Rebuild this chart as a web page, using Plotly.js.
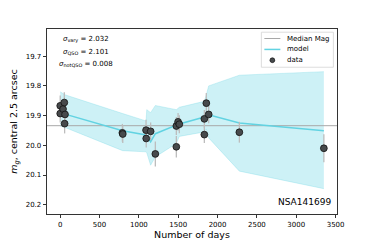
<!DOCTYPE html>
<html>
<head>
<meta charset="utf-8">
<script src="https://cdn.plot.ly/plotly-3.0.1.min.js"></script>
<style>html,body{margin:0;padding:0;background:#fff;}#chart{width:374px;height:240px;}</style>
</head>
<body>
<div id="chart"></div>
<script>
// Observations
var obsDays = [0, 0, 36, 52, 56, 61, 790, 795, 1091, 1093, 1149, 1209, 1476, 1476, 1498, 1514, 1832, 1832, 1857, 1887, 2277, 3351];
var obsMag  = [19.867, 19.893, 19.878, 19.856, 19.927, 19.896, 19.958, 19.962, 19.949, 19.977, 19.953, 20.029, 19.935, 20.005, 19.921, 19.929, 19.911, 19.964, 19.858, 19.896, 19.956, 20.010];
var obsErr  = [0.035, 0.03, 0.03, 0.035, 0.033, 0.03, 0.03, 0.03, 0.035, 0.03, 0.03, 0.042, 0.03, 0.036, 0.03, 0.03, 0.03, 0.028, 0.034, 0.03, 0.035, 0.047];

// Model and its band
var modelDays  = [0, 61, 793, 1091, 1100, 1149, 1209, 1476, 1514, 1832, 1857, 1887, 2277, 3351];
var modelMag   = [19.889, 19.895, 19.951, 19.965, 19.968, 19.988, 19.961, 19.933, 19.928, 19.905, 19.900, 19.897, 19.925, 19.951];
var modelUpper = [19.820, 19.830, 19.893, 19.918, 19.880, 19.890, 19.866, 19.880, 19.872, 19.852, 19.830, 19.800, 19.764, 19.752];
var modelLower = [19.935, 19.940, 20.018, 20.022, 20.025, 20.067, 20.039, 19.994, 19.970, 19.955, 19.945, 19.975, 20.087, 20.146];

var medianMag = 19.934;
var xRange = [-168, 3518];
var xTicks = [0, 500, 1000, 1500, 2000, 2500, 3000, 3500];
var yTicks = [19.7, 19.8, 19.9, 20.0, 20.1, 20.2];
var sigmaLabels = ["vary", "QSO", "notQSO"];
var sigmaValues = ["2.032", "2.101", "0.008"];
var legendNames = ["Median Mag", "model", "data"];
var objectName = "NSA141699";

var cyan = "#62d3e2";
var medianColor = "#a8a8a8";
var dotColor = "#474a4c";
var traces = [
  {x: modelDays, y: modelUpper, mode: "lines", line: {color: "rgba(98,211,226,0.45)", width: 0.6}, hoverinfo: "skip"},
  {x: modelDays, y: modelLower, mode: "lines", line: {color: "rgba(98,211,226,0.45)", width: 0.6}, fill: "tonexty", fillcolor: "rgba(98,211,226,0.32)", hoverinfo: "skip"},
  {x: xRange, y: [medianMag, medianMag], mode: "lines", name: legendNames[0], line: {color: medianColor, width: 1}},
  {x: modelDays, y: modelMag, mode: "lines", name: legendNames[1], line: {color: cyan, width: 1.5}},
  {x: obsDays, y: obsMag, mode: "markers", name: legendNames[2],
   error_y: {type: "data", array: obsErr, visible: true, color: "#bdbdbd", thickness: 1.3, width: 0},
   marker: {color: dotColor, size: 6.8, line: {color: "#111", width: 0.8}}}
];

var fontFam = "DejaVu Sans, sans-serif";

// paper-coordinate helpers for the decorations (pixel -> paper)
var L = 46.75, R = 336.6, T = 28.8, B = 213.6;
function px(x){ return (x - L) / (R - L); }
function py(y){ return (B - y) / (B - T); }

var annotations = [];
var sigmaX = [61, 61, 57];
var sigmaY = [39.3, 51.5, 63.3];
sigmaLabels.forEach(function(l, i){
  annotations.push({xref: "paper", yref: "paper", x: px(sigmaX[i]), y: py(sigmaY[i]), xanchor: "left", yanchor: "middle",
    showarrow: false, text: "<i>σ</i><sub>" + l + "</sub> = " + sigmaValues[i], font: {size: 7, family: fontFam}});
});
annotations.push({xref: "paper", yref: "paper", x: px(333), y: py(202), xanchor: "right", yanchor: "middle", showarrow: false,
  text: objectName, font: {size: 9, family: fontFam}});

// custom legend (box, sample glyphs, labels)
var rowY = [38.3, 49.2, 60.0];
var shapes = [
  {type: "rect", xref: "paper", yref: "paper", x0: px(261), x1: px(333), y0: py(67), y1: py(32),
   line: {color: "#d4d4d4", width: 0.8}, fillcolor: "rgba(255,255,255,0.85)", layer: "above"},
  {type: "line", xref: "paper", yref: "paper", x0: px(264), x1: px(280), y0: py(rowY[0]), y1: py(rowY[0]),
   line: {color: medianColor, width: 1}, layer: "above"},
  {type: "line", xref: "paper", yref: "paper", x0: px(264), x1: px(280), y0: py(rowY[1]), y1: py(rowY[1]),
   line: {color: cyan, width: 1.5}, layer: "above"},
  {type: "circle", xref: "paper", yref: "paper", x0: px(269.6), x1: px(274.4), y0: py(rowY[2] + 2.4), y1: py(rowY[2] - 2.4),
   line: {color: "#111", width: 0.7}, fillcolor: dotColor, layer: "above"}
];
legendNames.forEach(function(n, i){
  annotations.push({xref: "paper", yref: "paper", x: px(285), y: py(rowY[i]), xanchor: "left", yanchor: "middle",
    showarrow: false, text: n, font: {size: 7, family: fontFam}});
});

var layout = {
  width: 374, height: 240,
  margin: {l: L, r: 374 - R, t: T, b: 240 - B},
  paper_bgcolor: "#fff", plot_bgcolor: "#fff",
  font: {family: fontFam, size: 7, color: "#000"},
  showlegend: false,
  xaxis: {range: xRange, tickvals: xTicks, ticktext: xTicks.map(String), showgrid: false, zeroline: false,
          showline: true, mirror: true, linecolor: "#000", linewidth: 0.8, ticks: "outside", ticklen: 3.5,
          tickwidth: 0.8, tickcolor: "#000", tickfont: {size: 7},
          title: {text: "Number of days", font: {size: 9.5}, standoff: 2}},
  yaxis: {range: [20.2313, 19.6084], tickvals: yTicks, ticktext: yTicks.map(function(v){return v.toFixed(1);}),
          showgrid: false, zeroline: false, showline: true, mirror: true, linecolor: "#000", linewidth: 0.8,
          ticks: "outside", ticklen: 3.5, tickwidth: 0.8, tickcolor: "#000", tickfont: {size: 7},
          title: {text: "<i>m</i><sub><i>g</i></sub>, central 2.5 arcsec", font: {size: 9.5}, standoff: 6}},
  shapes: shapes,
  annotations: annotations
};

Plotly.newPlot("chart", traces, layout, {staticPlot: true, displayModeBar: false});
</script>
</body>
</html>
